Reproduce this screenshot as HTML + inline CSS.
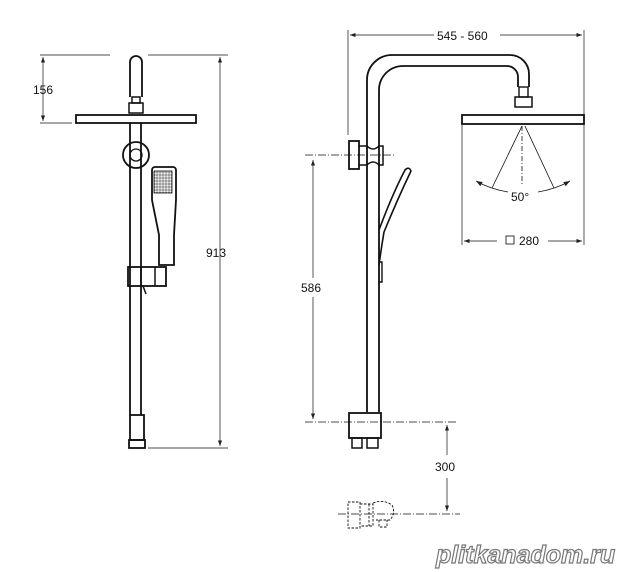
<!DOCTYPE html>
<html><head><style>body{margin:0;background:#fff}svg{display:block}text{font-family:"Liberation Sans",sans-serif;font-size:12px;fill:#111}</style></head><body>
<svg width="627" height="572" viewBox="0 0 627 572" xmlns="http://www.w3.org/2000/svg">
<defs><marker id="a" markerWidth="8" markerHeight="6" refX="8" refY="3" orient="auto-start-reverse"><path d="M0,0 L8,3 L0,6z" fill="#222"/></marker>
<pattern id="g" width="3" height="3" patternUnits="userSpaceOnUse"><rect x="0" y="0" width="2" height="2" fill="none" stroke="#222" stroke-width=".5"/></pattern></defs>
<g stroke="#111" fill="none" stroke-width="1">
<line x1="40" y1="55" x2="110" y2="55" stroke-width=".7"/>
<line x1="148" y1="55" x2="228" y2="55" stroke-width=".7"/>
<line x1="40" y1="123" x2="72" y2="123" stroke-width=".7"/>
<line x1="148" y1="448" x2="228" y2="448" stroke-width=".7"/>
<line x1="43" y1="57" x2="43" y2="121" stroke-width=".7" marker-start="url(#a)" marker-end="url(#a)"/>
<line x1="220" y1="57" x2="220" y2="446" stroke-width=".7" marker-start="url(#a)" marker-end="url(#a)"/>
<path d="M130,97 V62 a6,6 0 0 1 12,0 V97" stroke-width="1.8"/>
<rect x="132" y="97" width="8" height="6" stroke-width="1.5"/>
<rect x="129" y="103" width="14" height="10" stroke-width="1.5"/>
<rect x="76" y="115" width="120" height="8" stroke-width="1.8"/>
<path d="M130,123 V415 M141,123 V415" stroke-width="1.8"/>
<circle cx="136" cy="155" r="13" stroke-width="1.8"/>
<circle cx="136" cy="155" r="6" stroke-width="1.3"/>
<path d="M152,170 a3,3 0 0 1 3,-3 h18 a3,3 0 0 1 3,3 V200 l-2,35 V265 h-15 V235 l-7,-35z" stroke-width="1.8"/>
<rect x="154" y="171" width="18" height="22" fill="url(#g)" stroke-width=".8"/>
<rect x="128" y="267" width="38" height="19" stroke-width="1.8"/>
<path d="M141,267 V286 M155,267 V286 M143,286 l3,8" stroke-width="1.5"/>
<rect x="130" y="415" width="14" height="25" stroke-width="1.8"/>
<rect x="129" y="440" width="16" height="8" stroke-width="1.8"/>
<line x1="348" y1="30" x2="348" y2="135" stroke-width=".7"/>
<line x1="584" y1="30" x2="584" y2="245" stroke-width=".7"/>
<line x1="462" y1="125" x2="462" y2="245" stroke-width=".7"/>
<line x1="350" y1="35" x2="434" y2="35" stroke-width=".7" marker-start="url(#a)"/>
<line x1="500" y1="35" x2="582" y2="35" stroke-width=".7" marker-end="url(#a)"/>
<line x1="464" y1="241" x2="497" y2="241" stroke-width=".7" marker-start="url(#a)"/>
<line x1="548" y1="241" x2="582" y2="241" stroke-width=".7" marker-end="url(#a)"/>
<path d="M367,412 V80 a25,25 0 0 1 25,-25 H510 a19,19 0 0 1 19,19 V87 M379,412 V90 a24,24 0 0 1 24,-24 H507 a11,11 0 0 1 11,11 V87" stroke-width="1.8"/>
<rect x="519" y="87" width="9" height="10" stroke-width="1.4"/>
<rect x="515" y="97" width="17" height="10" stroke-width="1.5"/>
<rect x="462" y="115" width="122" height="9" stroke-width="1.8"/>
<path d="M522,126 L492,188 M525,126 L554,188" stroke-width=".8"/>
<line x1="522" y1="126" x2="522" y2="185" stroke-width=".8" stroke-dasharray="5,2,1,2"/>
<path d="M476,181 Q490,189 508,192" stroke-width=".8" marker-start="url(#a)"/>
<path d="M570,181 Q556,189 538,192" stroke-width=".8" marker-start="url(#a)"/>
<rect x="349" y="141" width="10" height="28" stroke-width="1.8"/>
<path d="M359,146 H367 q6,6 12,0 h4 V165 h-4 q-6,-6 -12,0 H359" stroke-width="1.5"/>
<line x1="305" y1="155" x2="396" y2="155" stroke-width=".8" stroke-dasharray="8,2,1,2"/>
<line x1="313" y1="160" x2="313" y2="278" stroke-width=".7" marker-start="url(#a)"/>
<line x1="313" y1="297" x2="313" y2="419" stroke-width=".7" marker-end="url(#a)"/>
<path d="M379,230 Q392,195 405,170 Q409,166 411,171 Q398,198 384,232 Q381,250 379,265" stroke-width="1.6"/>
<path d="M379,262 h3 V282 h-3" stroke-width="1.4"/>
<rect x="349" y="413" width="32" height="25" stroke-width="1.8"/>
<rect x="352" y="438" width="10" height="10" stroke-width="1.5"/>
<rect x="367" y="438" width="11" height="10" stroke-width="1.5"/>
<line x1="305" y1="422" x2="456" y2="422" stroke-width=".8" stroke-dasharray="8,2,1,2"/>
<line x1="447" y1="425" x2="447" y2="455" stroke-width=".7" marker-start="url(#a)"/>
<line x1="447" y1="478" x2="447" y2="511" stroke-width=".7" marker-end="url(#a)"/>
<line x1="338" y1="514" x2="460" y2="514" stroke-width=".8" stroke-dasharray="8,2,1,2"/>
<path d="M348,502 h12 v26 h-12z M360,504 h13 v22 h-13 M369,504 v22 M373,503 q10,-4 19,2 q4,8 -2,15 h-14 M379,520 v7 h8 v-7" stroke-width=".9" stroke-dasharray="2.5,1.5"/>
</g>
<text x="33" y="94">156</text>
<text x="206" y="257">913</text>
<text x="301" y="292">586</text>
<text x="435" y="471">300</text>
<text x="437" y="40">545 - 560</text>
<rect x="506" y="236" width="8" height="8" fill="none" stroke="#222" stroke-width=".9"/>
<text x="519" y="245">280</text>
<text x="511" y="201">50°</text>
<text x="436" y="563" style="font-size:25px;font-weight:bold;font-style:italic;fill:#fff;stroke:#777;stroke-width:1.2">plitkanadom.ru</text>
</svg>
</body></html>
